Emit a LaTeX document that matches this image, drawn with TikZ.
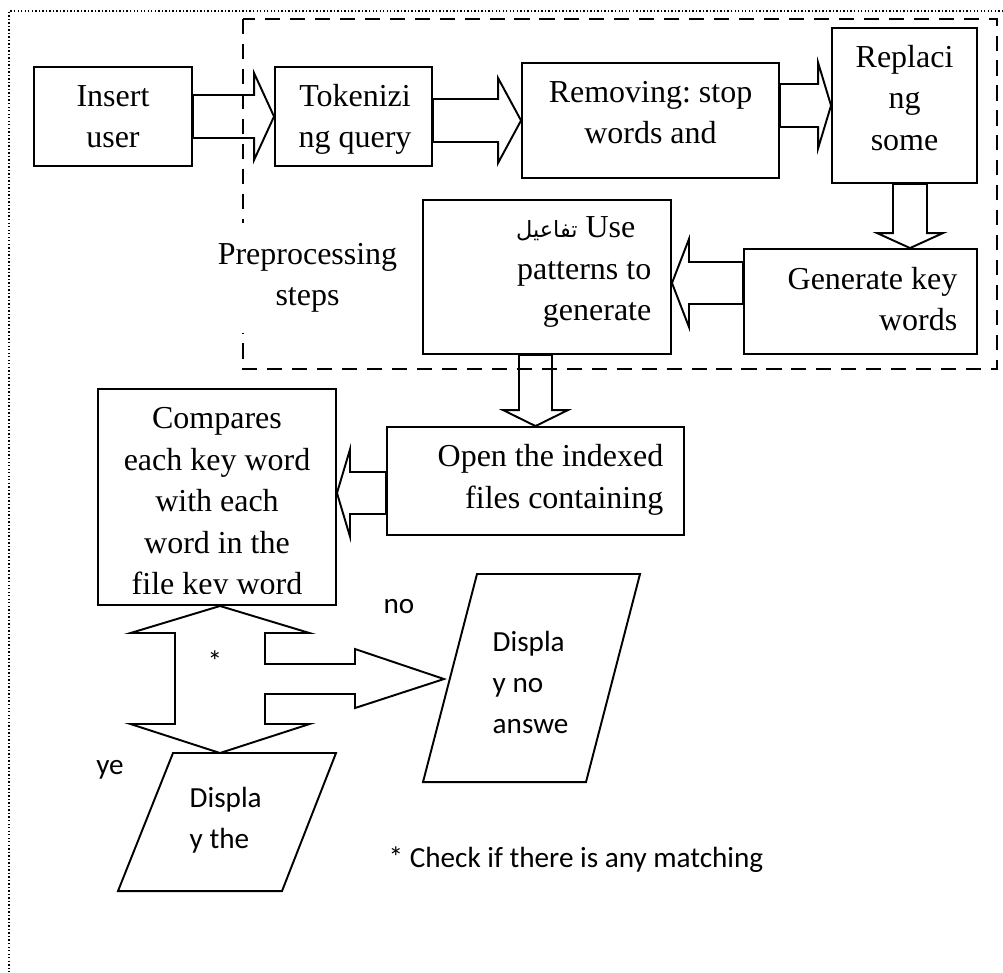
\documentclass[tikz,border=0pt]{standalone}
\usepackage{fontspec}
\setmainfont{Liberation Serif}
\newfontfamily\calib{Carlito}
\newfontfamily\arabicfont[Script=Arabic,Scale=0.7]{DejaVu Sans}
\TeXXeTstate=1
\usepackage{tikz}
\usetikzlibrary{calc}
\tikzset{
	box/.style = {draw, line width=0.55pt, inner sep=0pt},
	boxtext/.style = {inner sep=0pt, align=center,
		font=\fontsize{9.1}{11.8}\selectfont},
	caltext/.style = {inner sep=0pt, font=\calib\fontsize{8.3}{11.7}\selectfont},
	blk/.style = {draw, line width=0.55pt, line join=miter},% block arrow
	prepframe/.style = {draw, line width=0.55pt, dash pattern=on 4.3pt off 2.8pt},
	outframe/.style = {draw, line width=0.4pt, dash pattern=on 0.4pt off 0.6pt}
}
% block arrows: from, tip, shaft half width, head half width, head length
\newcommand{\rblk}[5]{\draw[blk] (#2) -- ++(-#5,#4) -- ++(0,#3-#4) coordinate (bk1)
	-- (#1 |- bk1) -- ++(0,-2*#3) coordinate (bk2) -- (bk1 |- bk2) -- ++(0,#3-#4) -- cycle;}
\newcommand{\lblk}[5]{\draw[blk] (#2) -- ++(#5,#4) -- ++(0,#3-#4) coordinate (bk1)
	-- (#1 |- bk1) -- ++(0,-2*#3) coordinate (bk2) -- (bk1 |- bk2) -- ++(0,#3-#4) -- cycle;}
\newcommand{\dblk}[5]{\draw[blk] (#2) -- ++(-#4,#5) -- ++(#4-#3,0) coordinate (bk1)
	-- (bk1 |- #1) -- ++(2*#3,0) coordinate (bk2) -- (bk2 |- bk1) -- ++(#4-#3,0) -- cycle;}

\begin{document}
\begin{tikzpicture}
	\useasboundingbox (0,0) rectangle (10.03,-9.72);
	\draw[outframe] (10.03,-0.11) -| (0.09,-9.72);
	
	% preprocessing steps
	\draw[prepframe] (2.43,-0.19) rectangle (9.97,-3.69);
	\node[boxtext, fill=white, minimum height=1.1cm, inner xsep=3pt] (prep) at (3.075,-2.78) {Preprocessing\\steps};
	
	\node[box, minimum width=1.58cm, minimum height=0.99cm] (insert) at (1.13,-1.165) {};
	\node[boxtext, anchor=north] (insertt) at ([yshift=-0.104cm]insert.north) {\strut Insert\\user};
	
	\node[box, minimum width=1.57cm, minimum height=0.99cm] (token) at (3.535,-1.165) {};
	\node[boxtext, anchor=north] (tokent) at ([xshift=0.015cm,yshift=-0.104cm]token.north) {\strut Tokenizi\\ng query};
	
	\node[box, minimum width=2.57cm, minimum height=1.15cm] (remove) at (6.505,-1.205) {};
	\node[boxtext, anchor=north] (removet) at ([yshift=-0.104cm]remove.north) {\strut Removing:\ stop\\words and};
	
	\node[box, minimum width=1.45cm, minimum height=1.55cm] (replace) at (9.045,-1.055) {};
	\node[boxtext, anchor=north] (replacet) at ([yshift=-0.104cm]replace.north) {\strut Replaci\\ng\\some};
	
	\node[box, minimum width=2.33cm, minimum height=1.05cm] (generate) at (8.605,-3.015) {};
	\node[boxtext, anchor=north east, align=right] (generatet) at ([xshift=-0.2cm,yshift=-0.115cm]generate.north east) {\strut Generate key\\words};
	
	\node[box, minimum width=2.48cm, minimum height=1.54cm] (usepat) at (5.47,-2.77) {};
	\node[boxtext, anchor=north east, align=right] (usepatt) at ([xshift=-0.2cm,yshift=-0.09cm]usepat.north east) {\strut{\arabicfont\beginR تفاعيل\endR} Use\hspace*{0.16cm}\\patterns to\\generate};
	
	\node[box, minimum width=2.97cm, minimum height=1.08cm] (openidx) at (5.355,-4.81) {};
	\node[boxtext, anchor=north east, align=right] (openidxt) at ([xshift=-0.21cm,yshift=-0.11cm]openidx.north east) {\strut Open the indexed\\files containing};
	
	\node[box, minimum width=2.38cm, minimum height=2.16cm] (compare) at (2.17,-4.97) {};
	\begin{scope}
		\clip (compare.north west) rectangle ([yshift=0.12cm]compare.south east);
		\node[boxtext, anchor=north] (comparet) at ([yshift=-0.11cm]compare.north) {\strut Compares\\each key word\\with each\\word in the\\file key word};
	\end{scope}
	
	% outputs
	\draw[blk] (4.77,-5.74) -- (6.40,-5.74) -- (5.86,-7.82) -- (4.23,-7.82) -- cycle;
	\node[caltext, anchor=north west, align=left] (dispno) at (4.92,-6.22) {\strut Displa\\y no\\answe};
	\coordinate (dnoin) at (4.44,-6.79);
	
	\draw[blk] (1.73,-7.53) -- (3.36,-7.53) -- (2.82,-8.91) -- (1.18,-8.91) -- cycle;
	\node[caltext, anchor=north west, align=left] (dispthe) at (1.89,-7.78) {\strut Displa\\y the};
	\coordinate (dtop) at (2.20,-7.53);
	
	% block arrows
	\rblk{insert.east}{token.west}{0.215}{0.435}{0.20}
	\rblk{token.east}{remove.west}{0.215}{0.425}{0.23}
	\rblk{remove.east}{replace.west}{0.215}{0.43}{0.13}
	\dblk{replace.south}{$(replace.south |- generate.north)+(0.055,0)$}{0.17}{0.33}{0.15}
	\lblk{generate.west}{[yshift=-0.06cm]usepat.east}{0.21}{0.44}{0.17}
	\dblk{usepat.south}{openidx.north}{0.165}{0.325}{0.16}
	\lblk{openidx.west}{[yshift=0.04cm]compare.east}{0.21}{0.435}{0.13}
	
	% check: yes down, no right
	\draw[blk] (compare.south -| dtop) -- (3.095,-6.33) -- (2.65,-6.33) -- (2.65,-6.64)
		-- (3.55,-6.64) -- (3.55,-6.49) -- (dnoin) -- (3.55,-7.08) -- (3.55,-6.94)
		-- (2.65,-6.94) -- (2.65,-7.24) -- (3.095,-7.24) -- (dtop) -- (1.305,-7.24)
		-- (1.75,-7.24) -- (1.75,-6.33) -- (1.305,-6.33) -- cycle;
	
	\node[caltext, anchor=base] (star) at (2.15,-6.71) {*};
	\node[caltext, anchor=base] (lblno) at (3.99,-6.13) {no};
	\node[caltext, anchor=base] (lblye) at (1.10,-7.74) {ye};
	\node[caltext, anchor=base west] (note) at (3.88,-8.67) {* Check if there is any matching};
\end{tikzpicture}
\end{document}
